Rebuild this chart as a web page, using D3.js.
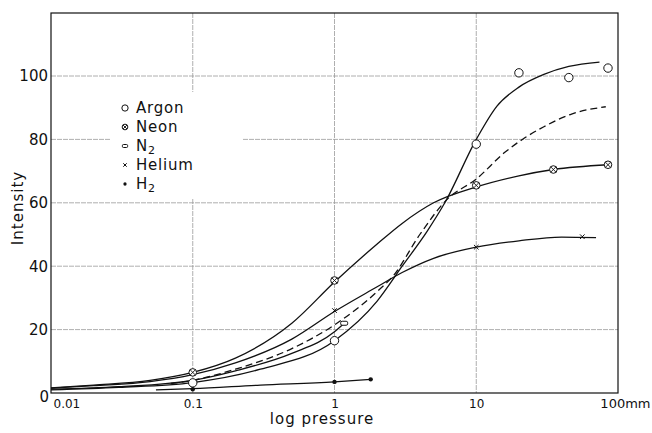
<!DOCTYPE html>
<html><head><meta charset="utf-8">
<script src="https://cdn.jsdelivr.net/npm/d3@7"></script>
<style>
html,body{margin:0;padding:0;background:#fff;}
svg{display:block;font-family:"DejaVu Sans",sans-serif;}
</style></head>
<body><svg id="c" width="652" height="433"></svg>
<script>
// ---- data ----
const xTicks = [0.01, 0.1, 1, 10, 100];
const xTickLabels = ["0.01", "0.1", "1", "10", "100mm"];
const yTicks = [0, 20, 40, 60, 80, 100];
const yTickLabels = ["0", "20", "40", "60", "80", "100"];

// measured points [pressure mm, intensity]
const argonPts  = [[0.1,3.2],[1,16.5],[10,78.5],[20,101],[45,99.5],[85,102.5]];
const neonPts   = [[0.1,6.5],[1,35.5],[10,65.5],[35,70.5],[85,72]];
const n2Pts     = [[1.17,22]];
const heliumPts = [[1,26],[10,46],[56,49.3]];
const h2Pts     = [[0.1,1.2],[1,3.5],[1.8,4.3]];

// fitted curves
const argonCurve  = [[0.01,1],[0.03,1.8],[0.1,3.3],[0.3,7.5],[1,16.5],[2,29],[3,40],[4.5,51],[6,60],[10,80],[14,90.5],[20,96.5],[30,100.5],[45,103],[74,104.4]];
const neonCurve   = [[0.01,1.6],[0.02,2.5],[0.05,4],[0.1,6.5],[0.2,11],[0.5,22],[1,35],[2,47],[3,53.5],[5,60],[10,65],[20,68.5],[35,70.5],[85,72]];
const n2Curve     = [[0.01,1.2],[0.03,2],[0.1,4],[0.2,7],[0.5,12.5],[1,19.3],[1.17,22]];
const n2Dashed    = [[0.07,3],[0.1,4],[0.2,7.5],[0.5,14],[1,21.5],[2,32],[2.6,37],[4,50],[6.2,61],[10,67.5],[16,76],[22,80.5],[30,84],[47,88],[82,90.3]];
const heliumCurve = [[0.01,1.5],[0.02,2.3],[0.05,3.6],[0.1,5.8],[0.2,9.5],[0.5,17],[1,25.7],[2,33.5],[3,38],[5,42.5],[10,46],[20,48],[40,49.2],[70,49]];
const h2Curve     = [[0.055,1],[0.1,1.4],[0.3,2.5],[1,3.5],[1.8,4.3]];

const legendNames = ["Argon","Neon","N","Helium","H"];
const legendSubs  = ["","","2","","2"];
const legendKinds = ["circle","neon","rect","cross","dot"];

// ---- layout ----
const svg = d3.select("#c");
const L = 51, R = 618, T = 13, B = 393;
const x = d3.scaleLog().domain([0.01, 100]).range([L, R]);
const y = d3.scaleLinear().domain([0, 120]).range([B, B - 120*3.17]);

const g = svg.append("g");

// gridlines
const grid = g.append("g").attr("stroke","#9a9a9a").attr("stroke-width",0.8).attr("stroke-dasharray","5,1");
grid.selectAll("line.h").data(yTicks.filter(d=>d>0)).join("line")
  .attr("x1",L).attr("x2",R).attr("y1",d=>y(d)).attr("y2",d=>y(d));
grid.selectAll("line.v").data(xTicks.filter(d=>d>0.01 && d<100)).join("line")
  .attr("x1",d=>x(d)).attr("x2",d=>x(d)).attr("y1",T).attr("y2",B);

// legend background (hides grid behind it)
g.append("rect").attr("x",110).attr("y",92).attr("width",133).attr("height",106).attr("fill","#fff");

// frame
g.append("rect").attr("x",L).attr("y",T).attr("width",R-L).attr("height",B-T)
  .attr("fill","none").attr("stroke","#111").attr("stroke-width",1.2);

// axes with d3
const yAxis = d3.axisLeft(y).tickValues(yTicks.filter(d=>d>0)).tickSize(0).tickPadding(3)
  .tickFormat((d)=>yTickLabels[yTicks.indexOf(d)]);
const ya = g.append("g").attr("transform",`translate(${L},0)`).call(yAxis);
ya.select(".domain").remove();
ya.selectAll("text").attr("font-size",15).attr("fill","#111").attr("font-family","DejaVu Sans");

const xAxis = d3.axisBottom(x).tickValues(xTicks).tickSize(0).tickPadding(6)
  .tickFormat((d,i)=>xTickLabels[i]);
const xa = g.append("g").attr("transform",`translate(0,${B})`).call(xAxis);
xa.select(".domain").remove();
xa.selectAll("text").attr("fill","#111").attr("font-family","DejaVu Sans")
  .attr("font-size",(d,i)=> i===4 ? 13 : 12)
  .attr("text-anchor",(d,i)=> i===0 ? "start" : (i===4 ? "end" : "middle"))
  .attr("dx",(d,i)=> i===0 ? 2 : (i===4 ? 32 : 0));
// the "0" of the y axis sits at the corner
g.append("text").attr("x",L-2).attr("y",y(0)+9).attr("text-anchor","end")
  .attr("font-size",15).attr("fill","#111").text(yTickLabels[0]);

// titles
g.append("text").attr("x",322).attr("y",424).attr("text-anchor","middle")
  .attr("font-size",15).attr("letter-spacing",1).attr("fill","#111").text("log pressure");
g.append("text").attr("transform","translate(23,208) rotate(-90)").attr("text-anchor","middle")
  .attr("font-size",15).attr("letter-spacing",1).attr("fill","#111").text("Intensity");

// curves
const line = d3.line().x(d=>x(d[0])).y(d=>y(d[1])).curve(d3.curveMonotoneX);
const curves = g.append("g").attr("fill","none").attr("stroke","#111").attr("stroke-width",1.3);
[argonCurve, neonCurve, n2Curve, heliumCurve, h2Curve].forEach(c=>{
  curves.append("path").attr("d",line(c));
});
curves.append("path").attr("d",line(n2Dashed)).attr("stroke-dasharray","7,4");

// markers
function marker(sel, kind, cx, cy, s){
  s = s || 1;
  if(kind==="circle"){
    sel.append("circle").attr("cx",cx).attr("cy",cy).attr("r",4.2*s).attr("fill","#fff").attr("stroke","#111").attr("stroke-width",1);
  } else if(kind==="neon"){
    const r = 3.8*s;
    sel.append("circle").attr("cx",cx).attr("cy",cy).attr("r",r).attr("fill","#fff").attr("stroke","#111").attr("stroke-width",1);
    const k = r*0.7;
    sel.append("path").attr("d",`M${cx-k},${cy-k}L${cx+k},${cy+k}M${cx-k},${cy+k}L${cx+k},${cy-k}`).attr("stroke","#111").attr("stroke-width",0.9);
  } else if(kind==="rect"){
    sel.append("rect").attr("x",cx-3.5*s).attr("y",cy-2*s).attr("width",7*s).attr("height",4*s).attr("rx",1.5*s)
      .attr("fill","#fff").attr("stroke","#111").attr("stroke-width",1);
  } else if(kind==="cross"){
    const k = 2.3*s;
    sel.append("path").attr("d",`M${cx-k},${cy-k}L${cx+k},${cy+k}M${cx-k},${cy+k}L${cx+k},${cy-k}`).attr("stroke","#111").attr("stroke-width",1);
  } else if(kind==="dot"){
    sel.append("circle").attr("cx",cx).attr("cy",cy).attr("r",2.2*s).attr("fill","#111");
  }
}
const mk = g.append("g");
argonPts.forEach(d=>marker(mk,"circle",x(d[0]),y(d[1])));
neonPts.forEach(d=>marker(mk,"neon",x(d[0]),y(d[1])));
n2Pts.forEach(d=>marker(mk,"rect",x(d[0]),y(d[1])));
heliumPts.forEach(d=>marker(mk,"cross",x(d[0]),y(d[1])));
h2Pts.forEach(d=>marker(mk,"dot",x(d[0]),y(d[1])));

// legend
const lg = g.append("g");
legendNames.forEach((n,i)=>{
  const cy = 108 + i*19;
  marker(lg, legendKinds[i], 125, cy, 0.75);
  const t = lg.append("text").attr("x",136).attr("y",cy+5).attr("font-size",15).attr("letter-spacing",0.8).attr("fill","#111").text(n);
  if(legendSubs[i]) t.append("tspan").attr("font-size",11).attr("dy",3).text(legendSubs[i]);
});
</script>
</body></html>
